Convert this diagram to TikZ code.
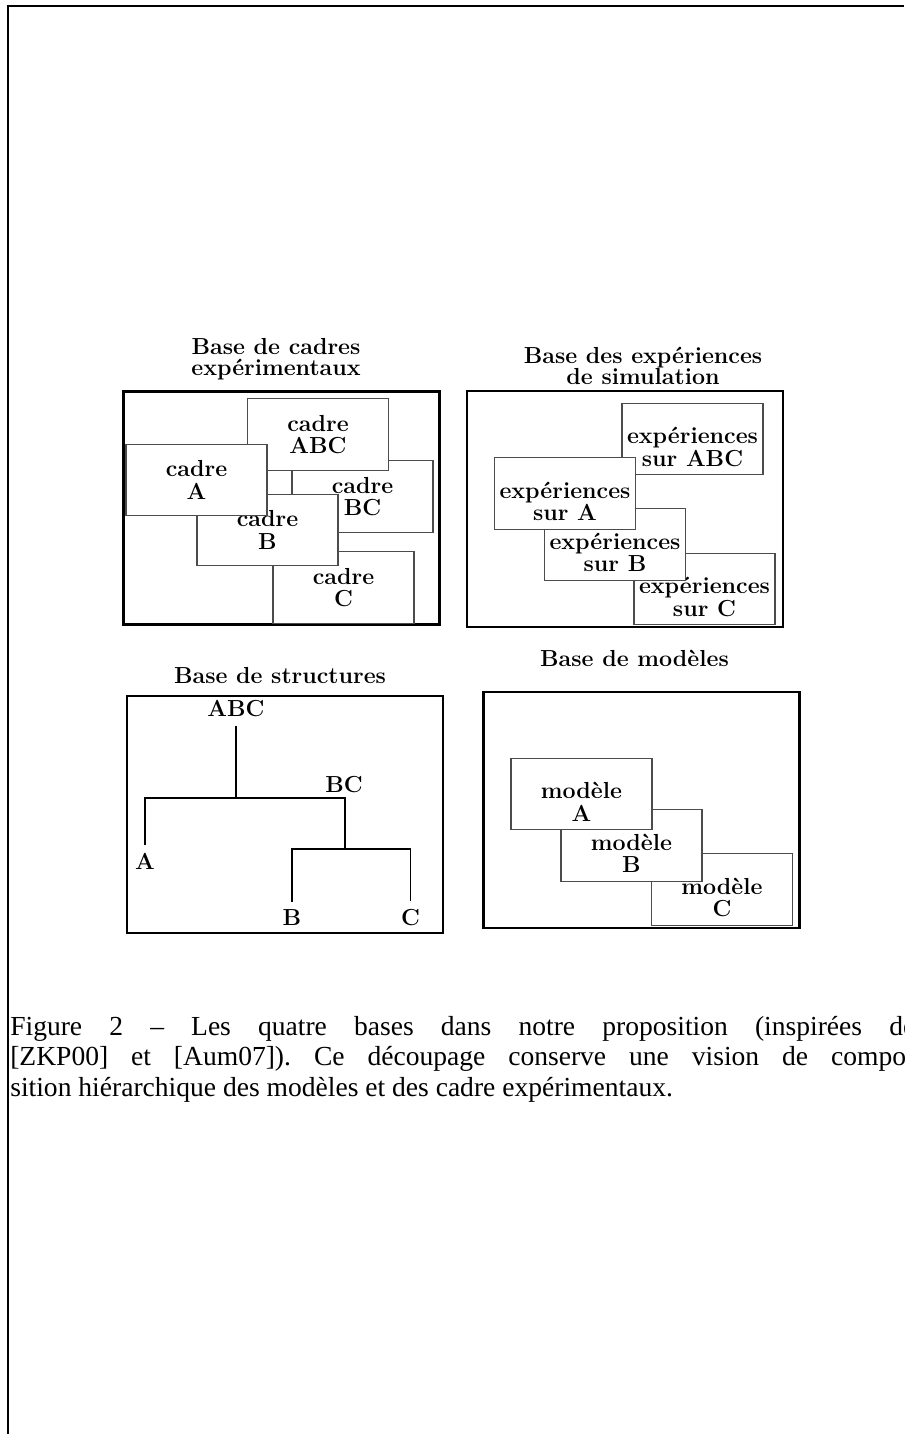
\documentclass[tikz,border=0pt]{standalone}
\usepackage{fontspec}
\usepackage{tikz}
\usetikzlibrary{positioning}
\newfontfamily\capfont{Liberation Serif}
\newcommand{\boxfont}{\fontsize{16.5}{16}\selectfont\bfseries}
\newcommand{\paneltitlefont}{\fontsize{16.5}{15}\selectfont\bfseries\lineskiplimit=-20pt}
\frenchspacing

\begin{document}
\begin{tikzpicture}[
  panel/.style={
    rectangle, draw=black, line width=1.6pt, inner sep=0pt,
    minimum width=7.9cm, minimum height=5.9cm
  },
  inbox/.style={
    rectangle, draw=black!70, line width=0.8pt, fill=white, inner sep=0pt,
    minimum width=3.525cm, minimum height=1.7875cm, align=center, font=\boxfont
  },
  boxtxt/.style={inner sep=0pt, align=center, font=\boxfont},
  paneltitle/.style={anchor=north, inner sep=0pt, align=center, font=\paneltitlefont},
  leaf/.style={inner sep=0.2cm, font=\boxfont},
  branch/.style={line width=1.4pt, black},
  captext/.style={
    anchor=base west, inner sep=0pt, text width=22.625cm, align=justify,
    font=\capfont\fontsize{19.6}{22}\selectfont
  }
]
\useasboundingbox (0,0) rectangle (22.6,-35.85);
\clip (0,0) rectangle (22.6,-35.85);

% --- page edge
\draw[line width=1pt] (22.6,-0.15) -- (0.2,-0.15) -- (0.2,-35.85);

% --- Base de cadres experimentaux (top left)
\node[paneltitle] (tcadres) at (6.9,-8.46) {Base de cadres\\expérimentaux};
\node[panel, minimum height=5.825cm] (cadres) at (7.0375,-12.7) {};
\node[inbox] (cBC)  at (9.0625,-12.4125) {cadre\\BC};
\node[inbox] (cABC) at (7.95,-10.8625)   {cadre\\ABC};
\node[inbox] (cC)   at (8.5875,-14.6875) {cadre\\C};
\node[inbox] (cB)   at (6.6875,-13.25)   {cadre\\B};
\node[inbox] (cA)   at (4.9125,-12.0)    {cadre\\A};

% --- Base des experiences de simulation (top right)
\node[paneltitle] (texp) at (16.075,-8.66) {Base des expériences\\de simulation};
\node[panel, minimum height=5.915cm] (exps) at (15.62,-12.725) {};
\node[inbox] (eABC) at (17.3125,-10.975) {};
\node[boxtxt, yshift=-0.2cm] (eABCt) at (eABC) {expériences\\sur ABC};
\node[inbox] (eC) at (17.6125,-14.725) {};
\node[boxtxt, yshift=-0.2cm] (eCt) at (eC) {expériences\\sur C};
\node[inbox] (eB) at (15.375,-13.6125) {};
\node[boxtxt, yshift=-0.2cm] (eBt) at (eB) {expériences\\sur B};
\node[inbox] (eA) at (14.125,-12.3375) {};
\node[boxtxt, yshift=-0.2cm] (eAt) at (eA) {expériences\\sur A};

% --- Base de structures (bottom left)
\node[paneltitle] (tstruct) at (7.0,-16.6875) {Base de structures};
\node[panel, minimum height=5.925cm] (structs) at (7.125,-20.3625) {};
\node[leaf] (sABC) at (5.9,-17.725)     {ABC};
\node[leaf] (sBC)  at (8.6,-19.6125)    {BC};
\node[leaf] (sA)   at (3.625,-21.525)   {A};
\node[leaf] (sB)   at (7.3,-22.95)      {B};
\node[leaf] (sC)   at (10.2625,-22.95)  {C};
\coordinate (j1) at (5.9,-19.95);
\coordinate (j2) at (8.625,-21.225);
\draw[branch] (sABC) -- (j1);
\draw[branch] (j1) -| (sA);
\draw[branch] (j1) -| (j2);
\draw[branch] (j2) -| (sB);
\draw[branch] (j2) -| (sC);

% --- Base de modeles (bottom right)
\node[paneltitle] (tmod) at (15.8625,-16.25) {Base de modèles};
\node[panel] (mods) at (16.0375,-20.25) {};
\node[inbox] (mC) at (18.05,-22.2375) {};
\node[boxtxt, yshift=-0.2cm] (mCt) at (mC) {modèle\\C};
\node[inbox] (mB) at (15.7875,-21.1375) {};
\node[boxtxt, yshift=-0.2cm] (mBt) at (mB) {modèle\\B};
\node[inbox] (mA) at (14.5375,-19.85) {};
\node[boxtxt, yshift=-0.2cm] (mAt) at (mA) {modèle\\A};

% --- caption
\node[captext] (cap) at (0.25,-25.875) {Figure 2 – Les quatre bases dans notre proposition (inspirées de\linebreak{}[ZKP00] et [Aum07]). Ce découpage conserve une vision de compo-\linebreak{}sition hiérarchique des modèles et des cadre expérimentaux.};

\end{tikzpicture}
\end{document}
